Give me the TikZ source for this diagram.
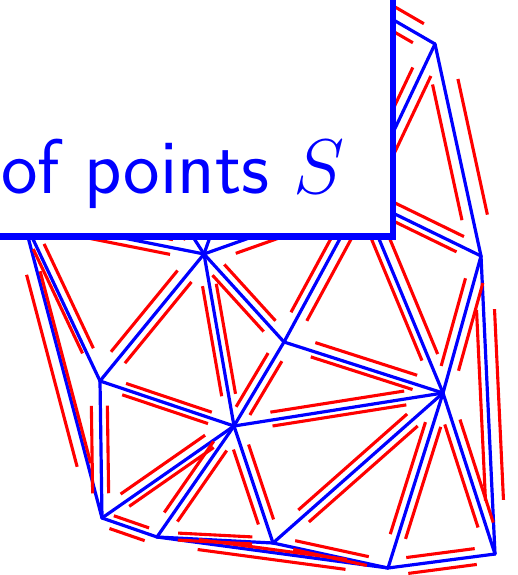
\documentclass[tikz,border=0pt]{standalone}
\usepackage{fix-cm}
\usetikzlibrary{calc}
\definecolor{eblue}{RGB}{0,0,255}
\definecolor{ered}{RGB}{255,0,0}
\tikzset{
  edge/.style={draw=eblue, line width=3.2pt, line cap=round},
  halfedge/.style={draw=ered, line width=3.1pt},
  frame/.style={draw=eblue, line width=6.5pt, fill=white},
  titletext/.style={text=eblue, font=\sffamily\fontsize{77.5}{84}\selectfont, inner sep=0pt, anchor=base east},
}
% red half-edge on the left of #2 -> #3, offset #4 (pt), trimmed by fraction #1 at both ends
\newcommand\hedge[4][0.18]{\draw[halfedge] ($(#2)!#1!(#3)!#4pt!90:(#3)$) -- ($(#3)!#1!(#2)!#4pt!-90:(#2)$);}
\begin{document}
\begin{tikzpicture}[x=1pt,y=-1pt]
\useasboundingbox (0,0) rectangle (517,575);
\clip (0,0) rectangle (517,575);
\coordinate (A) at (435,44);
\coordinate (B) at (481,256);
\coordinate (C) at (204,254);
\coordinate (D) at (100,381);
\coordinate (E) at (234,426);
\coordinate (F) at (102,518);
\coordinate (G) at (157,537);
\coordinate (H) at (284,342);
\coordinate (I) at (443,393);
\coordinate (J) at (273,543);
\coordinate (K) at (388,568);
\coordinate (L) at (495,554);
\coordinate (V) at (362,198);
\coordinate (T) at (23,218);
\coordinate (P) at (340,-11);
\coordinate (Q) at (138,152);
\coordinate (R) at (240,152);

\foreach \u/\v in {A/P,A/V,A/B,B/V,B/I,B/L,V/I,V/H,V/C,C/H,C/E,C/D,C/T,C/Q,C/R,T/D,T/F,D/E,D/F,E/F,E/G,F/G,E/H,E/I,H/I,E/J,G/J,G/K,J/K,J/I,K/I,I/L,K/L}
  \draw[edge] (\u) -- (\v);

\hedge{A}{P}{10} \hedge{P}{A}{12}
\hedge{A}{V}{10} \hedge{V}{A}{10}
\hedge{A}{B}{15} \hedge{B}{A}{11}
\hedge{B}{V}{7} \hedge{V}{B}{10}
\hedge{B}{I}{9} \hedge{I}{B}{9}
\hedge{B}{L}{11} \hedge{L}{B}{7}
\hedge{V}{I}{10} \hedge{I}{V}{7}
\hedge{H}{V}{8} \hedge{V}{H}{10}
\hedge{C}{V}{8} \hedge{V}{C}{10}
\hedge{C}{H}{8} \hedge{H}{C}{8}
\hedge{C}{E}{7} \hedge{E}{C}{7}
\hedge{D}{C}{10} \hedge{C}{D}{8}
\hedge{C}{T}{7} \hedge{T}{C}{8}
\hedge{C}{Q}{8} \hedge{Q}{C}{8}
\hedge{C}{R}{8} \hedge{R}{C}{8}
\hedge{T}{D}{8} \hedge{D}{T}{4}
\hedge{T}{F}{3} \hedge{F}{T}{11}
\hedge{D}{E}{6} \hedge{E}{D}{6}
\hedge{D}{F}{7} \hedge{F}{D}{9}
\hedge{E}{F}{6} \hedge{F}{E}{9}
\hedge{E}{G}{8} \hedge{G}{E}{8}
\hedge{F}{G}{6} \hedge{G}{F}{7.5}
\hedge{E}{H}{8} \hedge{H}{E}{8}
\hedge{E}{I}{8} \hedge{I}{E}{6}
\hedge{H}{I}{9} \hedge{I}{H}{6}
\hedge{E}{J}{8} \hedge{J}{E}{8}
\hedge{G}{J}{5} \hedge{J}{G}{2}
\hedge{G}{K}{3} \hedge{K}{G}{7}
\hedge{J}{K}{7} \hedge{K}{J}{2}
\hedge{J}{I}{8} \hedge{I}{J}{8}
\hedge{K}{I}{8} \hedge{I}{K}{8}
\hedge{I}{L}{8} \hedge{L}{I}{8}
\hedge{K}{L}{8} \hedge{L}{K}{8}

\draw[frame] (-30,-30) rectangle (393,236.3);
\node[titletext] (ttl) at (345,193) {of points $S$};
\end{tikzpicture}
\end{document}
